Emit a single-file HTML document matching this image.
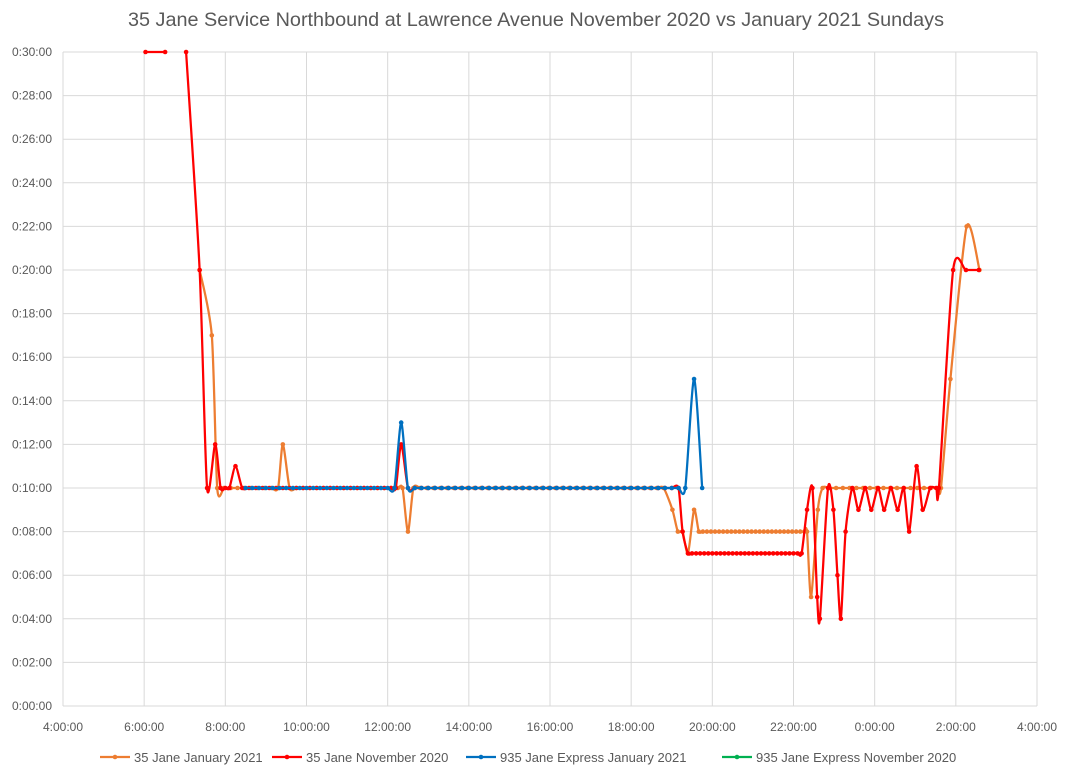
<!DOCTYPE html>
<html><head><meta charset="utf-8"><style>
body{margin:0;background:#fff;font-family:"Liberation Sans",sans-serif;}
svg text{font-family:"Liberation Sans",sans-serif;fill:#595959;}
</style></head><body>
<svg id="chart" width="1070" height="775" xmlns="http://www.w3.org/2000/svg">
<rect width="1070" height="775" fill="#fff"/>
<text x="128" y="26" font-size="19.5" textLength="816" lengthAdjust="spacingAndGlyphs">35 Jane Service Northbound at Lawrence Avenue November 2020 vs January 2021 Sundays</text>
<g id="grid"></g><g id="series"></g><g id="legend"></g>
</svg>
<script>
const xTicks=["4:00:00","6:00:00","8:00:00","10:00:00","12:00:00","14:00:00","16:00:00","18:00:00","20:00:00","22:00:00","0:00:00","2:00:00","4:00:00"];
const yTicks=["0:00:00","0:02:00","0:04:00","0:06:00","0:08:00","0:10:00","0:12:00","0:14:00","0:16:00","0:18:00","0:20:00","0:22:00","0:24:00","0:26:00","0:28:00","0:30:00"];
const seriesNames=["35 Jane January 2021","35 Jane November 2020","935 Jane Express January 2021","935 Jane Express November 2020"];
const seriesColors=["#ed7d31","#ff0000","#0070c0","#00b050"];
const janTimes=["7:22","7:40","7:48","7:58","8:08","8:18","8:28","8:38","8:48","8:58","9:08","9:18","9:25","9:35","9:45","9:55","10:05","10:15","10:25","10:35","10:45","10:55","11:05","11:15","11:25","11:35","11:45","11:55","12:05","12:15","12:22","12:30","12:38","12:48","12:58","13:08","13:18","13:28","13:38","13:48","13:58","14:08","14:18","14:28","14:38","14:48","14:58","15:08","15:18","15:28","15:38","15:48","15:58","16:08","16:18","16:28","16:38","16:48","16:58","17:08","17:18","17:28","17:38","17:48","17:58","18:08","18:18","18:28","18:38","18:48","19:01","19:09","19:16","19:24","19:33","19:40","19:46","19:52","19:58","20:04","20:10","20:16","20:22","20:28","20:34","20:40","20:46","20:52","20:58","21:04","21:10","21:16","21:22","21:28","21:34","21:40","21:46","21:52","21:58","22:04","22:10","22:16","22:20","22:26","22:36","22:43","22:53","23:03","23:13","23:23","23:33","23:43","23:53","24:03","24:13","24:23","24:33","24:43","24:53","25:03","25:13","25:23","25:33","25:38","25:52","26:16","26:35"];
const janValues=[20,17,10,10,10,10,10,10,10,10,10,10,12,10,10,10,10,10,10,10,10,10,10,10,10,10,10,10,10,10,10,8,10,10,10,10,10,10,10,10,10,10,10,10,10,10,10,10,10,10,10,10,10,10,10,10,10,10,10,10,10,10,10,10,10,10,10,10,10,10,9,8,8,7,9,8,8,8,8,8,8,8,8,8,8,8,8,8,8,8,8,8,8,8,8,8,8,8,8,8,8,8,8,5,9,10,10,10,10,10,10,10,10,10,10,10,10,10,10,10,10,10,10,10,15,22,20];
const novTimes=["6:02","6:31","6:45","7:02","7:22","7:33","7:45","7:53","8:00","8:06","8:15","8:25","8:35","8:45","8:55","9:05","9:15","9:25","9:35","9:45","9:55","10:05","10:15","10:25","10:35","10:45","10:55","11:05","11:15","11:25","11:35","11:45","11:55","12:05","12:12","12:20","12:30","12:40","12:50","13:00","13:10","13:20","13:30","13:40","13:50","14:00","14:10","14:20","14:30","14:40","14:50","15:00","15:10","15:20","15:30","15:40","15:50","16:00","16:10","16:20","16:30","16:40","16:50","17:00","17:10","17:20","17:30","17:40","17:50","18:00","18:10","18:20","18:30","18:40","18:50","19:00","19:10","19:16","19:24","19:30","19:36","19:42","19:48","19:54","20:00","20:06","20:12","20:18","20:24","20:30","20:36","20:42","20:48","20:54","21:00","21:06","21:12","21:18","21:24","21:30","21:36","21:42","21:48","21:54","22:00","22:06","22:12","22:20","22:28","22:35","22:39","22:51","22:59","23:05","23:10","23:17","23:27","23:36","23:46","23:55","24:05","24:14","24:24","24:34","24:43","24:51","25:02","25:11","25:22","25:31","25:35","25:56","26:15","26:34"];
const novValues=[30,30,null,30,20,10,12,10,10,10,11,10,10,10,10,10,10,10,10,10,10,10,10,10,10,10,10,10,10,10,10,10,10,10,10,12,10,10,10,10,10,10,10,10,10,10,10,10,10,10,10,10,10,10,10,10,10,10,10,10,10,10,10,10,10,10,10,10,10,10,10,10,10,10,10,10,10,8,7,7,7,7,7,7,7,7,7,7,7,7,7,7,7,7,7,7,7,7,7,7,7,7,7,7,7,7,7,9,10,5,4,10,9,6,4,8,10,9,10,9,10,9,10,9,10,8,11,9,10,10,10,20,20,20];
const expJanTimes=["8:30","8:40","8:50","9:00","9:10","9:20","9:30","9:40","9:50","10:00","10:10","10:20","10:30","10:40","10:50","11:00","11:10","11:20","11:30","11:40","11:50","12:00","12:10","12:20","12:30","12:40","12:50","13:00","13:10","13:20","13:30","13:40","13:50","14:00","14:10","14:20","14:30","14:40","14:50","15:00","15:10","15:20","15:30","15:40","15:50","16:00","16:10","16:20","16:30","16:40","16:50","17:00","17:10","17:20","17:30","17:40","17:50","18:00","18:10","18:20","18:30","18:40","18:50","19:00","19:10","19:20","19:33","19:45"];
const expJanValues=[10,10,10,10,10,10,10,10,10,10,10,10,10,10,10,10,10,10,10,10,10,10,10,13,10,10,10,10,10,10,10,10,10,10,10,10,10,10,10,10,10,10,10,10,10,10,10,10,10,10,10,10,10,10,10,10,10,10,10,10,10,10,10,10,10,10,15,10];
const expNovTimes=[];
const expNovValues=[];

const NS="http://www.w3.org/2000/svg";
const L=63,R=1037,T=52,B=706;
const xMin=4,xMax=28,yMax=30;
function xs(h){return L+(h-xMin)/(xMax-xMin)*(R-L);}
function ys(v){return B-v/yMax*(B-T);}
function hrs(s){const p=s.split(":");return +p[0]+(+p[1])/60;}
function mk(tag,attrs,parent){const e=document.createElementNS(NS,tag);for(const k in attrs)e.setAttribute(k,attrs[k]);parent.appendChild(e);return e;}
const grid=document.getElementById("grid");
yTicks.forEach((t,i)=>{
  const y=ys(i*2);
  const ln=mk("line",{x1:L,x2:R,y1:y,y2:y,stroke:"#d9d9d9","stroke-width":1},grid);
  
  
  const tx=mk("text",{x:52,y:y+4,"text-anchor":"end","font-size":12},grid);
  tx.textContent=t;
  
  
});
xTicks.forEach((t,i)=>{
  const x=xs(xMin+i*2);
  const ln=mk("line",{x1:x,x2:x,y1:T,y2:B,stroke:"#d9d9d9","stroke-width":1},grid);
  
  
  const tx=mk("text",{x:x,y:731,"text-anchor":"middle","font-size":12},grid);
  tx.textContent=t;
  
  
});
function smoothPath(pts){
  let d="";
  const segs=[];let cur=[];
  pts.forEach(p=>{if(p==null){if(cur.length)segs.push(cur);cur=[];}else cur.push(p);});
  if(cur.length)segs.push(cur);
  segs.forEach(s=>{
    d+="M"+s[0][0]+","+s[0][1];
    for(let i=0;i<s.length-1;i++){
      const p0=s[Math.max(i-1,0)],p1=s[i],p2=s[i+1],p3=s[Math.min(i+2,s.length-1)];
      const c1=[p1[0]+(p2[0]-p0[0])/8,p1[1]+(p2[1]-p0[1])/8];
      const c2=[p2[0]-(p3[0]-p1[0])/8,p2[1]-(p3[1]-p1[1])/8];
      d+="C"+c1+" "+c2+" "+p2;
    }
  });
  return d;
}
const sg=document.getElementById("series");
const allT=[janTimes,novTimes,expJanTimes,expNovTimes];
const allV=[janValues,novValues,expJanValues,expNovValues];
const keys=["jan-2021","nov-2020","express-jan-2021","express-nov-2020"];
[0,1,2,3].forEach(si=>{
  const g=mk("g",{},sg);
  
  
  const pts=allT[si].map((t,i)=>allV[si][i]==null?null:[xs(hrs(t)),ys(allV[si][i])]);
  const p=mk("path",{d:smoothPath(pts),fill:"none",stroke:seriesColors[si],"stroke-width":2.25,"stroke-linejoin":"round"},g);
  
  
  pts.forEach(q=>{if(!q)return;
    const c=mk("circle",{cx:q[0],cy:q[1],r:2.3,fill:seriesColors[si]},g);
    
    
  });
});
const lg=document.getElementById("legend");
const lx=[100,272,466,722];
seriesNames.forEach((n,i)=>{
  const g=mk("g",{},lg);
  
  
  mk("line",{x1:lx[i],x2:lx[i]+30,y1:757,y2:757,stroke:seriesColors[i],"stroke-width":2.25},g);
  mk("circle",{cx:lx[i]+15,cy:757,r:2.3,fill:seriesColors[i]},g);
  const t=mk("text",{x:lx[i]+34,y:762,"font-size":13},g);
  t.textContent=n;
});
</script>
</body></html>
